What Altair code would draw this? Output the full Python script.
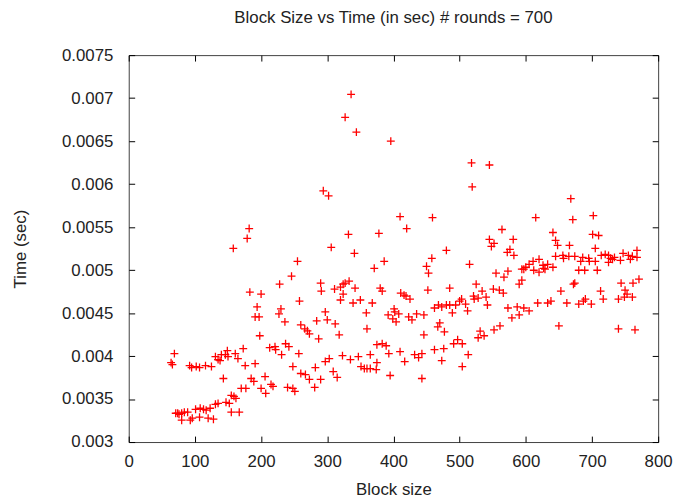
import altair as alt
import pandas as pd

# ---- data ----
block_size = [
    69, 64, 66, 92, 95, 102, 107, 116, 125, 131, 135, 138, 140, 146, 149, 150, 161, 165, 173, 176,
    191, 143, 198, 213, 221, 222, 237, 242, 231, 257, 248, 282, 303, 297, 309, 273, 287, 260, 267, 273,
    281, 290, 185, 189, 206, 200, 207, 215, 218, 240, 248, 251, 170, 177, 155, 162, 159, 147, 152, 135,
    131, 101, 108, 113, 123, 117, 71, 74, 80, 84, 89, 76, 80, 93, 96, 107, 120, 128, 155, 167,
    182, 179, 158, 306, 255, 246, 228, 290, 291, 311, 183, 200, 258, 194, 230, 227, 191, 197, 297, 300,
    284, 312, 236, 260, 266, 270,
    332, 378, 420, 564, 341, 545, 548, 552, 480, 458, 450, 453, 386, 371, 515, 555, 567, 327, 333, 324,
    320, 342, 324, 380, 383, 411, 416, 419, 425, 320, 339, 350, 368, 452, 485, 525, 534, 521, 528, 540,
    522, 551, 560, 566, 503, 500, 509, 494, 485, 480, 468, 462, 473, 512, 489, 542, 401, 402, 408, 399,
    404, 392, 423, 428, 435, 446, 359, 360, 470, 467, 477, 561, 552, 531, 537, 528, 318, 446,
    497, 491, 504, 375, 383, 389, 323, 335, 347, 365, 393, 410, 417, 432, 438, 443, 462, 476, 473, 513,
    351, 356, 360, 365, 374, 375, 315, 395, 443, 504,
    641, 645, 648, 666, 701, 710, 581, 576, 572, 582, 705, 768, 747, 755, 758, 645, 656, 657, 665, 674,
    686, 683, 695, 696, 705, 714, 720, 725, 728, 731, 725, 734, 743, 761, 768, 620, 611, 605, 626, 633,
    627, 641, 600, 597, 594, 612, 620, 629, 680, 689, 708, 573, 672, 674, 594, 590, 744, 762, 771, 653,
    713, 750, 753, 761, 749, 717, 740, 690, 687, 699, 680, 618, 633, 638, 662, 573, 587, 597, 605, 590,
    579, 650, 740, 765,
    668, 615, 671, 702, 336, 327, 344, 396, 518, 545, 519, 294, 302, 410, 459,
]

time_sec = [
    0.004028, 0.003924, 0.003901, 0.003889, 0.003866, 0.003878, 0.003866, 0.003889, 0.003878, 0.003993,
    0.003959, 0.003947, 0.004016, 0.004016, 0.004063, 0.003993, 0.004028, 0.003970, 0.004086, 0.003889,
    0.003912, 0.003739, 0.004236, 0.004097, 0.004109, 0.004074, 0.004143, 0.004109, 0.004016, 0.004028,
    0.003878, 0.003866, 0.003970, 0.003936, 0.003820, 0.004259, 0.004201, 0.003797, 0.003785, 0.003728,
    0.003635, 0.003728, 0.003739, 0.003705, 0.003762, 0.003624, 0.003566, 0.003670, 0.003647, 0.003635,
    0.003624, 0.003589, 0.003624, 0.003624, 0.003543, 0.003508, 0.003531, 0.003462, 0.003450, 0.003450,
    0.003439, 0.003381, 0.003393, 0.003381, 0.003393, 0.003370, 0.003335, 0.003335, 0.003335, 0.003347,
    0.003347, 0.003323, 0.003254, 0.003254, 0.003277, 0.003289, 0.003277, 0.003266, 0.003347, 0.003347,
    0.005483, 0.005368, 0.005252, 0.005264, 0.005102, 0.004929, 0.004836, 0.004848, 0.004756, 0.004779,
    0.004744, 0.004721, 0.004640, 0.004571, 0.004548, 0.004490, 0.004455, 0.004455, 0.004513, 0.004421,
    0.004409, 0.004374, 0.004398, 0.004363, 0.004317, 0.004294,
    0.005414, 0.005426, 0.005483, 0.005472, 0.005195, 0.005356, 0.005275, 0.005310, 0.005229, 0.005137,
    0.005044, 0.004964, 0.005102, 0.005021, 0.005067, 0.004964, 0.004917, 0.004848, 0.004871, 0.004836,
    0.004802, 0.004790, 0.004721, 0.004790, 0.004756, 0.004733, 0.004709, 0.004698, 0.004663, 0.004652,
    0.004617, 0.004652, 0.004617, 0.004767, 0.004790, 0.004836, 0.004756, 0.004698, 0.004675, 0.004686,
    0.004663, 0.004779, 0.004767, 0.004733, 0.004663, 0.004640, 0.004605, 0.004594, 0.004594, 0.004594,
    0.004594, 0.004559, 0.004571, 0.004525, 0.004502, 0.004594, 0.004548, 0.004513, 0.004490, 0.004432,
    0.004398, 0.004478, 0.004455, 0.004421, 0.004490, 0.004478, 0.004502, 0.004317, 0.004386, 0.004340,
    0.004282, 0.004351, 0.004305, 0.004290, 0.004236, 0.004213, 0.004247, 0.004247,
    0.004190, 0.004143, 0.004143, 0.004132, 0.004143, 0.004120, 0.004005, 0.003959, 0.003993, 0.004016,
    0.004028, 0.004051, 0.003936, 0.004016, 0.003982, 0.004028, 0.004074, 0.004086, 0.003947, 0.004016,
    0.003878, 0.003855, 0.003855, 0.003855, 0.003843, 0.003924, 0.003751, 0.003774, 0.003739, 0.003878,
    0.005437, 0.005345, 0.005287, 0.005287, 0.005414, 0.005402, 0.005356, 0.005241, 0.005206, 0.005171,
    0.005252, 0.005229, 0.005195, 0.005171, 0.005125, 0.005160, 0.005171, 0.005137, 0.005160, 0.005160,
    0.005148, 0.005102, 0.005137, 0.005102, 0.005102, 0.005171, 0.005183, 0.005171, 0.005137, 0.005125,
    0.005090, 0.005148, 0.005114, 0.005160, 0.005148, 0.005125, 0.005102, 0.005067, 0.005056, 0.005067,
    0.005021, 0.005033, 0.005033, 0.005010, 0.005010, 0.004998, 0.004975, 0.005010, 0.004998, 0.004998,
    0.004998, 0.004987, 0.004836, 0.004848, 0.004883, 0.004836, 0.004848, 0.004848, 0.004894, 0.004756,
    0.004756, 0.004767, 0.004721, 0.004686, 0.004686, 0.004663, 0.004663, 0.004663, 0.004640, 0.004605,
    0.004605, 0.004617, 0.004617, 0.004640, 0.004617, 0.004559, 0.004571, 0.004559, 0.004525, 0.004478,
    0.004444, 0.004351, 0.004317, 0.004305,
    0.005830, 0.005610, 0.005587, 0.005633, 0.007043, 0.006777, 0.006604, 0.006500, 0.006246, 0.006222,
    0.005968, 0.005922, 0.005864, 0.005622, 0.005610,
]

x_ticks = [0, 100, 200, 300, 400, 500, 600, 700, 800]
y_ticks = [0.003, 0.0035, 0.004, 0.0045, 0.005, 0.0055, 0.006, 0.0065, 0.007, 0.0075]

df = pd.DataFrame({"block": block_size, "time": time_sec})

FONT = "Liberation Sans"
FS = 17
TXT = "#222222"
xscale = alt.Scale(domain=[0, 800], nice=False, zero=False)
yscale = alt.Scale(domain=[0.003, 0.0075], nice=False, zero=False)
plus = "M-1,0L1,0M0,-1L0,1"

common_axis = dict(domain=False, grid=False, tickSize=6, offset=-6, tickColor="#000000",
                   tickWidth=1, labelFont=FONT, labelFontSize=FS, labelColor=TXT,
                   titleFont=FONT, titleFontSize=FS, titleColor=TXT, titleFontWeight="normal",
                   labelFlush=False, labelOverlap=False)

points = alt.Chart(df).mark_point(
    shape=plus, filled=False, size=64, strokeWidth=1.3, color="#ff0000", opacity=1
).encode(
    x=alt.X("block:Q", scale=xscale,
            axis=alt.Axis(values=x_ticks, title="Block size", orient="bottom",
                          labelPadding=12, titlePadding=12, **common_axis)),
    y=alt.Y("time:Q", scale=yscale,
            axis=alt.Axis(values=y_ticks, title="Time (sec)", orient="left", format="~g",
                          labelPadding=16, titlePadding=32, **common_axis)),
)

mirror = alt.Chart(df).mark_point(opacity=0, size=1, strokeWidth=0).encode(
    x=alt.X("block:Q", scale=xscale,
            axis=alt.Axis(values=x_ticks, title=None, orient="top", labels=False, **common_axis)),
    y=alt.Y("time:Q", scale=yscale,
            axis=alt.Axis(values=y_ticks, title=None, orient="right", labels=False, **common_axis)),
)

chart = alt.layer(points, mirror).resolve_axis(
    x="independent", y="independent"
).properties(
    width=535,
    height=391,
    title=alt.TitleParams("Block Size vs Time (in sec) # rounds = 700", font=FONT, fontSize=FS,
                          fontWeight="normal", color=TXT, anchor="middle", frame="group",
                          baseline="bottom", offset=2),
    autosize=alt.AutoSizeParams(type="none"),
    padding={"left": 122, "top": 45, "right": 15, "bottom": 60},
).configure_view(stroke="#404040", strokeWidth=1)

chart.save("out.html", embed_options={"renderer": "svg", "actions": False})
